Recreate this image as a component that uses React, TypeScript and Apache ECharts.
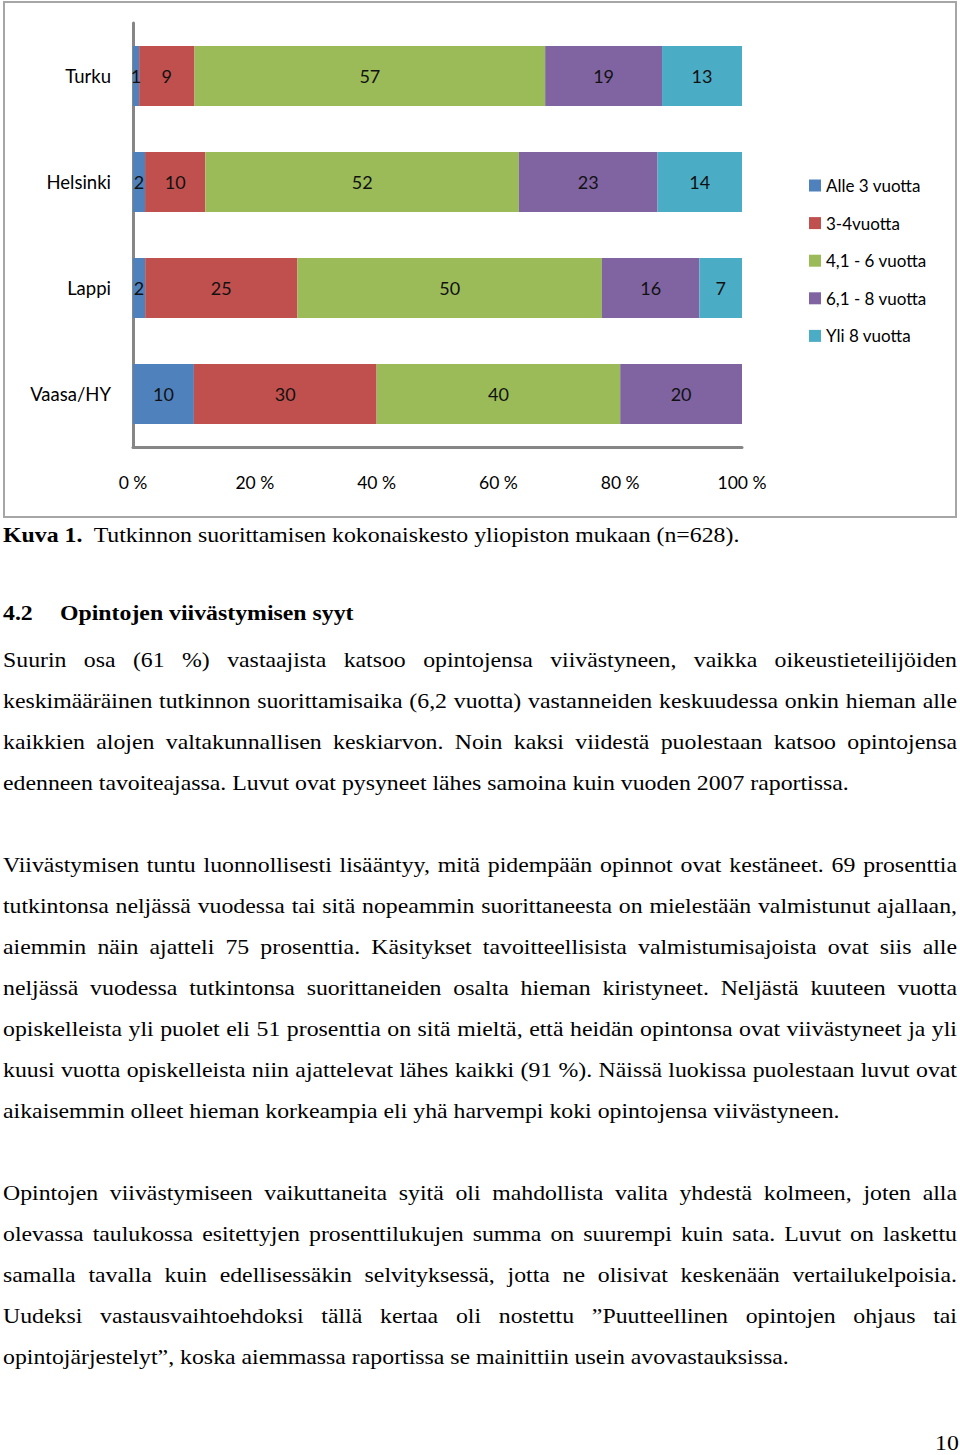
import React, { useEffect, useRef } from "react";
import * as echarts from "echarts";

const categories = ["Turku", "Helsinki", "Lappi", "Vaasa/HY"];
const seriesNames = ["Alle 3 vuotta", "3-4vuotta", "4,1 - 6 vuotta", "6,1 - 8 vuotta", "Yli 8 vuotta"];
const alle3 = [1, 2, 2, 10];
const v3to4 = [9, 10, 25, 30];
const v41to6 = [57, 52, 50, 40];
const v61to8 = [19, 23, 16, 20];
const yli8 = [13, 14, 7, 0];
const seriesColors = ["#4F81BD", "#C0504D", "#9BBB59", "#8064A2", "#4BACC6"];
const xTickStep = 20;

const captionLabel = "Kuva 1.";
const caption = "Tutkinnon suorittamisen kokonaiskesto yliopiston mukaan (n=628).";
const headingNo = "4.2";
const headingText = "Opintojen viivästymisen syyt";

const para1 = [
  "Suurin osa (61 %) vastaajista katsoo opintojensa viivästyneen, vaikka oikeustieteilijöiden",
  "keskimääräinen tutkinnon suorittamisaika (6,2 vuotta) vastanneiden keskuudessa onkin hieman alle",
  "kaikkien alojen valtakunnallisen keskiarvon. Noin kaksi viidestä puolestaan katsoo opintojensa",
  "edenneen tavoiteajassa. Luvut ovat pysyneet lähes samoina kuin vuoden 2007 raportissa.",
];
const para2 = [
  "Viivästymisen tuntu luonnollisesti lisääntyy, mitä pidempään opinnot ovat kestäneet. 69 prosenttia",
  "tutkintonsa neljässä vuodessa tai sitä nopeammin suorittaneesta on mielestään valmistunut ajallaan,",
  "aiemmin näin ajatteli 75 prosenttia. Käsitykset tavoitteellisista valmistumisajoista ovat siis alle",
  "neljässä vuodessa tutkintonsa suorittaneiden osalta hieman kiristyneet. Neljästä kuuteen vuotta",
  "opiskelleista yli puolet eli 51 prosenttia on sitä mieltä, että heidän opintonsa ovat viivästyneet ja yli",
  "kuusi vuotta opiskelleista niin ajattelevat lähes kaikki (91 %). Näissä luokissa puolestaan luvut ovat",
  "aikaisemmin olleet hieman korkeampia eli yhä harvempi koki opintojensa viivästyneen.",
];
const para3 = [
  "Opintojen viivästymiseen vaikuttaneita syitä oli mahdollista valita yhdestä kolmeen, joten alla",
  "olevassa taulukossa esitettyjen prosenttilukujen summa on suurempi kuin sata. Luvut on laskettu",
  "samalla tavalla kuin edellisessäkin selvityksessä, jotta ne olisivat keskenään vertailukelpoisia.",
  "Uudeksi vastausvaihtoehdoksi tällä kertaa oli nostettu \u201DPuutteellinen opintojen ohjaus tai",
  "opintojärjestelyt\u201D, koska aiemmassa raportissa se mainittiin usein avovastauksissa.",
];
const pageNumber = "10";

const serif = "'Liberation Serif', 'Times New Roman', serif";
const SX = 1.133;
const FS = 21;

function Line({ text, top, justify }: { text: string; top: number; justify: boolean }) {
  return (
    <div
      style={{
        position: "absolute",
        left: 3,
        width: 954 / SX,
        top: top - 12,
        height: 24,
        lineHeight: "24px",
        fontSize: FS,
        fontFamily: serif,
        color: "#000",
        whiteSpace: "nowrap",
        textAlign: justify ? "justify" : "left",
        textAlignLast: justify ? "justify" : "left",
        transform: `scaleX(${SX})`,
        transformOrigin: "0 0",
      } as React.CSSProperties}
    >
      {text}
    </div>
  );
}

function Para({ lines, start }: { lines: string[]; start: number }) {
  return (
    <>
      {lines.map((t, i) => (
        <Line key={i} text={t} top={start + i * 41} justify={i < lines.length - 1} />
      ))}
    </>
  );
}

export default function App() {
  const ref = useRef<HTMLDivElement>(null);
  useEffect(() => {
    if (!ref.current) return;
    const chart = echarts.init(ref.current, undefined, { renderer: "svg" });
    const all = [alle3, v3to4, v41to6, v61to8, yli8];
    const totals = categories.map((_, i) => all.reduce((s, arr) => s + (arr[i] || 0), 0));
    const H = 522;
    chart.setOption({
      animation: false,
      textStyle: { fontFamily: "Lato, 'Open Sans', sans-serif" },
      graphic: [
        {
          type: "rect",
          shape: { x: 4, y: 2, width: 952, height: 515 },
          style: { fill: "none", stroke: "#a6a6a6", lineWidth: 2 },
          silent: true,
        },
      ],
      grid: { left: 133, right: 960 - 742, top: 23, bottom: H - 447 },
      legend: {
        orient: "vertical",
        left: 804,
        top: 172,
        icon: "rect",
        itemWidth: 12,
        itemHeight: 12,
        itemGap: 20.6,
        data: seriesNames,
        textStyle: { fontSize: 17, color: "#000", fontFamily: "Lato, sans-serif" },
      },
      xAxis: {
        type: "value",
        min: 0,
        max: 100,
        interval: xTickStep,
        axisLine: { show: true, lineStyle: { color: "#868686", width: 3 } },
        axisTick: { show: false },
        splitLine: { show: false },
        axisLabel: { formatter: "{value} %", fontSize: 17.5, color: "#000", margin: 26 },
      },
      yAxis: {
        type: "category",
        data: categories,
        inverse: true,
        axisLine: { show: true, lineStyle: { color: "#868686", width: 3 } },
        axisTick: { show: false },
        axisLabel: { fontSize: 18.5, color: "#000", margin: 22 },
      },
      series: seriesNames.map((name, si) => ({
        name,
        type: "bar",
        stack: "total",
        barWidth: 60,
        itemStyle: { color: seriesColors[si] },
        data: all[si].map((v, i) => ({ value: v ? (v / totals[i]) * 100 : null, raw: v })),
        label: {
          show: true,
          position: "inside",
          fontSize: 18,
          color: "#111",
          formatter: (p: any) => (p.data && p.data.raw ? String(p.data.raw) : ""),
        },
      })),
    });
    return () => chart.dispose();
  }, []);

  const scaled: React.CSSProperties = {
    position: "absolute",
    whiteSpace: "nowrap",
    fontFamily: serif,
    color: "#000",
    transform: `scaleX(${SX})`,
    transformOrigin: "0 0",
  };

  return (
    <div style={{ position: "absolute", left: 0, top: 0, width: 960, height: 1455, background: "#fff", overflow: "hidden" }}>
      <div ref={ref} style={{ position: "absolute", left: 0, top: 0, width: 960, height: 522 }} />
      <div style={{ ...scaled, left: 3, top: 523, height: 24, lineHeight: "24px", fontSize: FS }}>
        <b>{captionLabel}</b>
        <span style={{ marginLeft: 10 }}>{caption}</span>
      </div>
      <div style={{ ...scaled, left: 3, top: 600, height: 26, lineHeight: "26px", fontSize: FS, fontWeight: "bold" }}>
        {headingNo}
      </div>
      <div style={{ ...scaled, left: 60, top: 600, height: 26, lineHeight: "26px", fontSize: FS, fontWeight: "bold" }}>
        {headingText}
      </div>
      <Para lines={para1} start={660} />
      <Para lines={para2} start={865} />
      <Para lines={para3} start={1193} />
      <div style={{ ...scaled, left: 935, top: 1431, height: 24, lineHeight: "24px", fontSize: FS }}>{pageNumber}</div>
    </div>
  );
}
